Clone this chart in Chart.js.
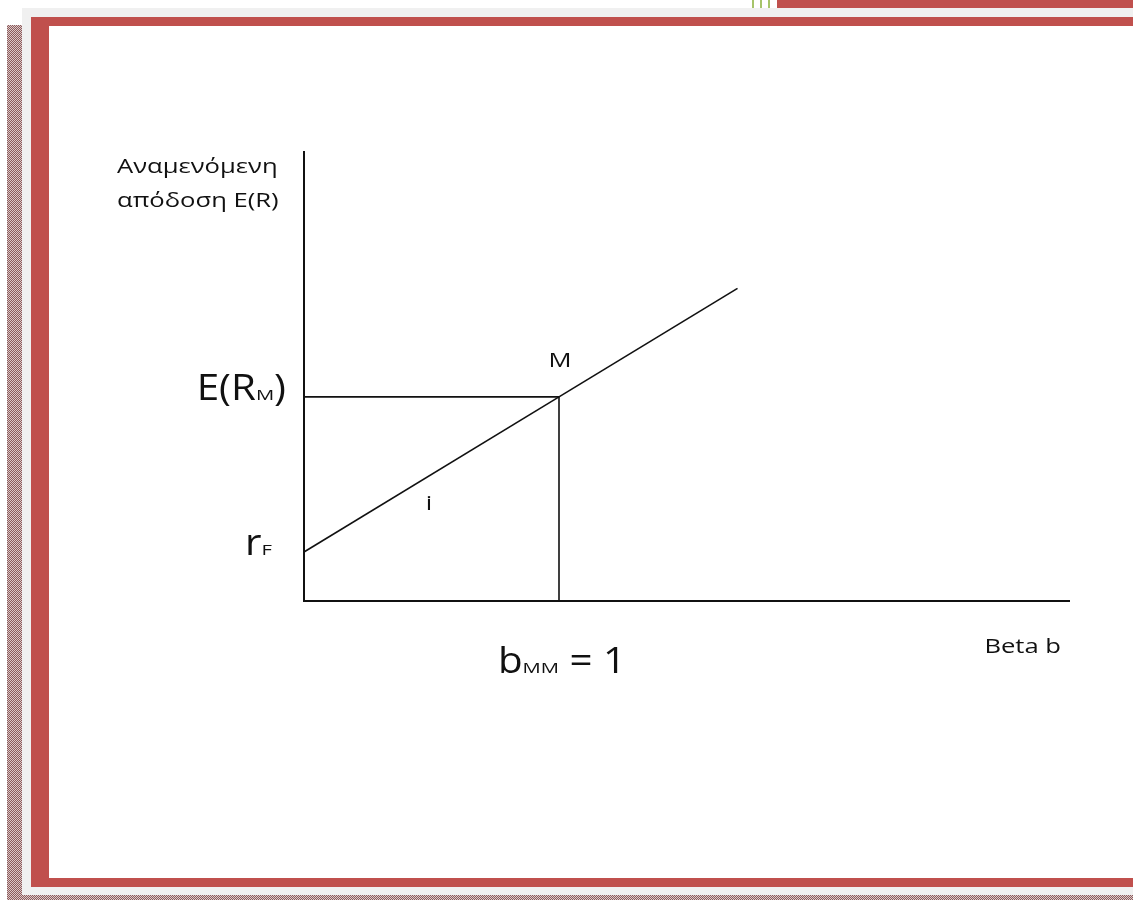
<!DOCTYPE html>
<html>
<head>
<meta charset="utf-8">
<script src="https://cdn.jsdelivr.net/npm/chart.js@4"></script>
<style>
  html, body { margin: 0; padding: 0; background: #fff; }
  #page { position: relative; width: 1133px; height: 900px; overflow: hidden; }
  .blk { position: absolute; }
  .hatch {
    background-color: #b49494;
    background-image: repeating-conic-gradient(#8c5c5c 0 25%, #dcc8c8 0 50%);
    background-size: 2px 2px;
  }
  canvas { position: absolute; left: 0; top: 0; }
</style>
</head>
<body>
<div id="page">
  <!-- page frame -->
  <div class="blk hatch" style="left:7px;top:25px;width:15px;height:875px;"></div>
  <div class="blk hatch" style="left:7px;top:895px;width:1126px;height:5px;"></div>
  <div class="blk" style="left:22px;top:8px;width:1111px;height:887px;background:#f0f0f0;"></div>
  <div class="blk" style="left:31px;top:17px;width:1102px;height:870px;background:#c0504d;"></div>
  <div class="blk" style="left:49px;top:26px;width:1084px;height:852px;background:#fff;"></div>
  <div class="blk" style="left:777px;top:0;width:356px;height:8px;background:#c0504d;"></div>
  <div class="blk" style="left:752px;top:0;width:2px;height:8px;background:#a6c46a;"></div>
  <div class="blk" style="left:760px;top:0;width:2px;height:8px;background:#a6c46a;"></div>
  <div class="blk" style="left:768px;top:0;width:2px;height:8px;background:#a6c46a;"></div>
  <canvas id="sml" width="1133" height="900"></canvas>
</div>
<script>
// Security market line: beta on x, expected return on y
const betaPoints = [0, 1, 1.7];
const smlReturns = [0.24, 1, 1.532];

// guide lines through the market portfolio M
const guideBeta = [0, 1, 1];
const guideReturns = [1, 1, 0];

const xRange = [0, 3];
const yRange = [0, 2.2];

const riskFree = 0.24;
const marketReturn = 1;
const marketBeta = 1;
const assetBeta = 0.49; // where the "i" label sits on the line

const yTitleLines = ["Αναμενόμενη", "απόδοση E(R)"];
const xTitle = "Beta b";

function toPoints(xs, ys) {
  return xs.map(function (x, i) {
    return { x: x, y: ys[i] };
  });
}

// the original picture is stretched sideways, so each font has its own x scale
const big = { font: "36px 'Open Sans'", sx: 1.12 };
const small = { font: "15px 'Open Sans'", sx: 1.35 };
const mid = { font: "20px 'Open Sans'", sx: 1.28 };

// draws a run of text pieces (main text, subscript, ...) one after another
function drawRun(ctx, x, y, parts, align) {
  let total = 0;
  parts.forEach(function (p) {
    ctx.font = p.style.font;
    p.w = ctx.measureText(p.text).width * p.style.sx;
    total += p.w;
  });
  let cx = x;
  if (align === "right") cx = x - total;
  if (align === "center") cx = x - total / 2;
  ctx.textAlign = "left";
  parts.forEach(function (p) {
    ctx.save();
    ctx.font = p.style.font;
    ctx.translate(cx, y);
    ctx.scale(p.style.sx, 1);
    ctx.fillText(p.text, 0, 0);
    ctx.restore();
    cx += p.w;
  });
}

const labelPlugin = {
  id: "smlLabels",
  afterDraw: function (chart) {
    const ctx = chart.ctx;
    const xs = chart.scales.x;
    const ys = chart.scales.y;
    const area = chart.chartArea;
    ctx.save();
    ctx.fillStyle = "#111";
    ctx.textBaseline = "alphabetic";

    // y axis title
    drawRun(ctx, 117, 173, [{ text: yTitleLines[0], style: mid }], "left");
    drawRun(ctx, 117, 207, [{ text: yTitleLines[1], style: mid }], "left");

    // E(R_M)
    drawRun(ctx, area.left - 18, ys.getPixelForValue(marketReturn) + 3, [
      { text: "E(R", style: big },
      { text: "M", style: small },
      { text: ")", style: big }
    ], "right");

    // r_F
    drawRun(ctx, area.left - 32, ys.getPixelForValue(riskFree) + 3, [
      { text: "r", style: big },
      { text: "F", style: small }
    ], "right");

    // b_MM = 1
    drawRun(ctx, xs.getPixelForValue(marketBeta) + 3, area.bottom + 72, [
      { text: "b", style: big },
      { text: "MM", style: small },
      { text: " = 1", style: big }
    ], "center");

    // x axis title
    drawRun(ctx, area.right - 8, area.bottom + 52, [{ text: xTitle, style: mid }], "right");

    // M and i
    drawRun(ctx, xs.getPixelForValue(marketBeta) + 1, ys.getPixelForValue(marketReturn) - 30,
      [{ text: "M", style: mid }], "center");
    const iy = riskFree + (marketReturn - riskFree) * assetBeta;
    drawRun(ctx, xs.getPixelForValue(assetBeta), ys.getPixelForValue(iy) + 34,
      [{ text: "i", style: mid }], "center");
    ctx.restore();
  }
};

const ctx = document.getElementById("sml").getContext("2d");
new Chart(ctx, {
  type: "line",
  data: {
    datasets: [{
      label: "SML",
      data: toPoints(betaPoints, smlReturns),
      borderColor: "#111",
      borderWidth: 1.6,
      pointRadius: 0,
      tension: 0
    }, {
      label: "Market",
      data: toPoints(guideBeta, guideReturns),
      borderColor: "#111",
      borderWidth: 1.6,
      pointRadius: 0,
      tension: 0
    }]
  },
  options: {
    responsive: false,
    animation: false,
    layout: { padding: { left: 304, right: 64, top: 152, bottom: 299 } },
    plugins: { legend: { display: false }, tooltip: { enabled: false } },
    scales: {
      x: {
        type: "linear", min: xRange[0], max: xRange[1],
        ticks: { display: false },
        grid: { display: false, drawTicks: false },
        border: { display: true, color: "#111", width: 2 }
      },
      y: {
        type: "linear", min: yRange[0], max: yRange[1],
        ticks: { display: false },
        grid: { display: false, drawTicks: false },
        border: { display: true, color: "#111", width: 2 }
      }
    }
  },
  plugins: [labelPlugin]
});
</script>
</body>
</html>
